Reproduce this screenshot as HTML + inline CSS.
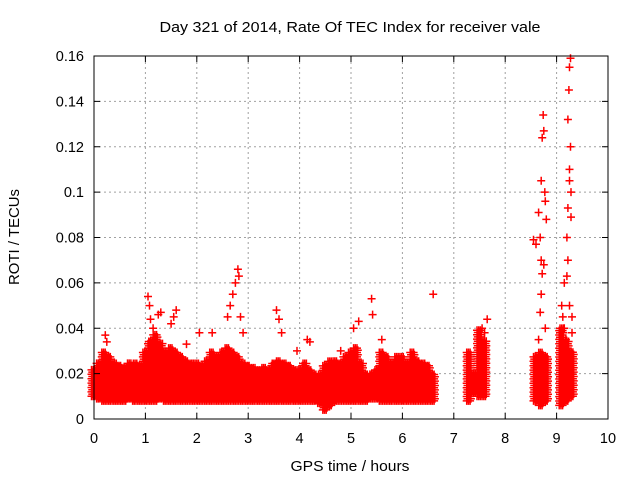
<!DOCTYPE html>
<html><head><meta charset="utf-8"><style>
body{margin:0;background:#fff}
svg{display:block;font-family:"Liberation Sans",sans-serif}
</style></head><body>
<svg id="chart" width="640" height="480" xmlns="http://www.w3.org/2000/svg">
<text x="350" y="32" text-anchor="middle" font-size="14.5" textLength="381" lengthAdjust="spacingAndGlyphs">Day 321 of 2014, Rate Of TEC Index for receiver vale</text>
<text x="350" y="471" text-anchor="middle" font-size="14.5" textLength="119" lengthAdjust="spacingAndGlyphs">GPS time / hours</text>
<text transform="translate(19,237) rotate(-90)" text-anchor="middle" font-size="14.5" textLength="96" lengthAdjust="spacingAndGlyphs">ROTI / TECUs</text>
<g id="grid"></g>
<g id="marks"></g>
<g id="axes"></g>
</svg>
<script>
const xTicks=[0,1,2,3,4,5,6,7,8,9,10];
const yTicks=[0,0.02,0.04,0.06,0.08,0.1,0.12,0.14,0.16];
const yTickLabels=["0","0.02","0.04","0.06","0.08","0.1","0.12","0.14","0.16"];
const bandTimes=[0,0.1,0.2,0.3,0.4,0.5,0.6,0.7,0.8,0.9,1.0,1.1,1.2,1.3,1.4,1.5,1.6,1.7,1.8,1.9,2.0,2.1,2.2,2.3,2.4,2.5,2.6,2.7,2.8,2.9,3.0,3.1,3.2,3.3,3.4,3.5,3.6,3.7,3.8,3.9,4.0,4.1,4.2,4.3,4.4,4.5,4.6,4.7,4.8,4.9,5.0,5.1,5.2,5.3,5.4,5.5,5.6,5.7,5.8,5.9,6.0,6.1,6.2,6.3,6.4,6.5,6.6,7.3,7.4,7.5,7.6,8.6,8.7,8.8,9.1,9.2,9.3];
const bandHigh=[0.022,0.025,0.03,0.028,0.025,0.024,0.023,0.025,0.025,0.024,0.03,0.035,0.038,0.034,0.03,0.032,0.03,0.028,0.026,0.025,0.025,0.024,0.026,0.03,0.028,0.03,0.032,0.03,0.028,0.025,0.024,0.023,0.022,0.023,0.022,0.025,0.026,0.025,0.024,0.022,0.022,0.025,0.022,0.02,0.02,0.024,0.026,0.026,0.025,0.028,0.03,0.032,0.025,0.02,0.02,0.022,0.03,0.028,0.025,0.028,0.028,0.025,0.03,0.026,0.025,0.024,0.02,0.03,0.02,0.04,0.035,0.028,0.03,0.028,0.04,0.035,0.03];
const bandLow=[0.01,0.009,0.008,0.008,0.008,0.008,0.008,0.009,0.008,0.008,0.008,0.008,0.008,0.009,0.008,0.008,0.008,0.008,0.008,0.008,0.008,0.008,0.008,0.008,0.008,0.008,0.008,0.008,0.008,0.008,0.008,0.008,0.008,0.008,0.008,0.008,0.008,0.008,0.008,0.008,0.008,0.008,0.008,0.008,0.007,0.004,0.006,0.008,0.008,0.008,0.008,0.008,0.008,0.008,0.009,0.009,0.008,0.008,0.008,0.008,0.008,0.008,0.008,0.008,0.008,0.008,0.008,0.008,0.012,0.01,0.01,0.008,0.006,0.008,0.006,0.008,0.01];
const outT=[0.22,0.25,1.05,1.08,1.1,1.15,1.25,1.3,1.55,1.6,1.5,1.8,2.05,2.3,2.6,2.65,2.7,2.75,2.8,2.82,2.85,2.9,3.55,3.6,3.65,3.95,4.15,4.2,4.8,5.05,5.15,5.4,5.42,5.6,6.6,7.55,7.65,7.6,8.55,8.6,8.65,8.7,8.72,8.74,8.75,8.77,8.78,8.8,8.68,8.7,8.72,8.75,8.7,8.68,8.78,8.65,9.1,9.15,9.2,9.22,9.25,9.27,9.22,9.24,9.25,9.27,9.25,9.28,9.2,9.22,9.25,9.3,9.12,9.15,9.18,9.3,9.28];
const outV=[0.037,0.034,0.054,0.05,0.044,0.04,0.046,0.047,0.045,0.048,0.042,0.033,0.038,0.038,0.045,0.05,0.055,0.06,0.066,0.063,0.045,0.038,0.048,0.044,0.038,0.03,0.035,0.034,0.03,0.04,0.043,0.053,0.046,0.035,0.055,0.04,0.044,0.038,0.079,0.077,0.091,0.105,0.124,0.134,0.127,0.1,0.096,0.088,0.08,0.07,0.064,0.068,0.055,0.047,0.04,0.035,0.05,0.06,0.063,0.093,0.11,0.12,0.132,0.145,0.155,0.159,0.105,0.1,0.08,0.07,0.05,0.045,0.045,0.04,0.035,0.038,0.089];
const X0=94,X1=608,Y0=419,Y1=56;
const sx=t=>X0+(t-0)/(10-0)*(X1-X0);
const sy=v=>Y0-(v-0)/(0.16-0)*(Y0-Y1);
const NS="http://www.w3.org/2000/svg";
const grid=document.getElementById('grid'),marks=document.getElementById('marks'),axes=document.getElementById('axes');
function ln(p,x1,y1,x2,y2,st,dash){const l=document.createElementNS(NS,'line');l.setAttribute('x1',x1);l.setAttribute('y1',y1);l.setAttribute('x2',x2);l.setAttribute('y2',y2);l.setAttribute('stroke',st);if(dash)l.setAttribute('stroke-dasharray',dash);p.appendChild(l);return l;}
xTicks.forEach((t,i)=>{const x=sx(t);
 if(i>0&&i<xTicks.length-1){const g=ln(grid,x,Y0,x,Y1,'#a0a0a0','2,3');
 
 }
 ln(axes,x,Y0,x,Y0-6,'#000');ln(axes,x,Y1,x,Y1+6,'#000');
 const tx=document.createElementNS(NS,'text');tx.setAttribute('x',x);tx.setAttribute('y',Y0+24);tx.setAttribute('text-anchor','middle');tx.setAttribute('font-size','14.5');tx.textContent=t;
 
 
 axes.appendChild(tx);});
yTicks.forEach((v,i)=>{const y=sy(v);
 if(i>0&&i<yTicks.length-1){const g=ln(grid,X0,y,X1,y,'#a0a0a0','2,3');
 
 }
 ln(axes,X0,y,X0+6,y,'#000');ln(axes,X1,y,X1-6,y,'#000');
 const tx=document.createElementNS(NS,'text');tx.setAttribute('x',X0-10);tx.setAttribute('y',y+5);tx.setAttribute('text-anchor','end');tx.setAttribute('font-size','14.5');tx.textContent=yTickLabels[i];
 
 
 axes.appendChild(tx);});
const fr=document.createElementNS(NS,'rect');fr.setAttribute('x',X0);fr.setAttribute('y',Y1);fr.setAttribute('width',X1-X0);fr.setAttribute('height',Y0-Y1);fr.setAttribute('fill','none');fr.setAttribute('stroke','#000');


axes.appendChild(fr);
let d='';
function plus(x,y){d+=`M${(x-4).toFixed(1)} ${y.toFixed(1)}h8M${x.toFixed(1)} ${(y-4).toFixed(1)}v8`;}
bandTimes.forEach((t,i)=>{
 const yl=sy(bandLow[i]),yh=sy(bandHigh[i]);
 for(let dx=-2.5;dx<=2.5;dx+=1.7){let k=0;for(let y=yl;y>=yh;y-=2.2){plus(sx(t)+dx+(k%2?0.8:0),y);k++;}}
});
outT.forEach((t,i)=>plus(sx(t),sy(outV[i])));
const p=document.createElementNS(NS,'path');p.setAttribute('d',d);p.setAttribute('stroke','#ff0000');p.setAttribute('stroke-width','1.5');p.setAttribute('fill','none');


marks.appendChild(p);
</script>
</body></html>
